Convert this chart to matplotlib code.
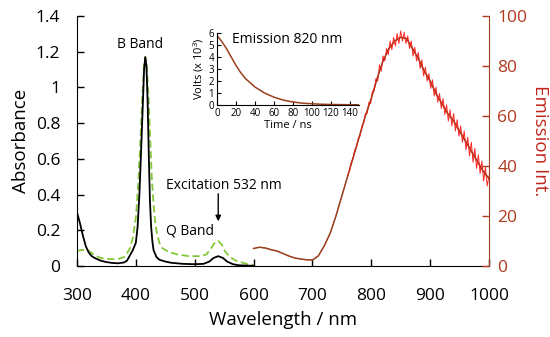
import matplotlib
matplotlib.use("Agg")
import matplotlib.pyplot as plt

plt.rcParams["font.family"] = ["Open Sans", "DejaVu Sans"]
plt.rcParams["mathtext.default"] = "regular"

# absorbance, solid black
abs_wl = [300, 305, 310, 315, 320, 325, 330, 340, 350, 360, 370, 380, 385, 390,
          395, 400, 403, 406, 409, 412, 414, 416, 418, 420, 422, 424, 426, 428,
          430, 435, 440, 450, 460, 480, 500, 515, 525, 532, 540, 548, 555, 565,
          575, 590, 600]
abs_val = [0.30, 0.24, 0.17, 0.11, 0.075, 0.055, 0.045, 0.03, 0.022, 0.017, 0.015,
           0.02, 0.03, 0.06, 0.09, 0.13, 0.22, 0.40, 0.65, 0.92, 1.10, 1.17, 1.12,
           0.92, 0.62, 0.36, 0.22, 0.14, 0.09, 0.05, 0.035, 0.025, 0.018, 0.012,
           0.01, 0.012, 0.025, 0.045, 0.055, 0.045, 0.025, 0.01, 0.004, 0.002, 0.001]

# excitation, dashed green
exc_wl = [300, 310, 320, 330, 340, 350, 360, 370, 380, 385, 390, 395, 400, 404,
          408, 411, 414, 416, 418, 421, 424, 427, 430, 433, 436, 440, 445, 455,
          470, 490, 510, 520, 528, 535, 540, 546, 552, 560, 570, 580, 590, 600]
exc_val = [0.085, 0.09, 0.085, 0.06, 0.045, 0.04, 0.038, 0.04, 0.05, 0.07, 0.10,
           0.16, 0.27, 0.45, 0.72, 0.95, 1.13, 1.17, 1.14, 0.98, 0.74, 0.50, 0.35,
           0.24, 0.18, 0.13, 0.10, 0.08, 0.065, 0.055, 0.055, 0.065, 0.10, 0.135,
           0.14, 0.12, 0.08, 0.05, 0.03, 0.02, 0.01, 0.005]

# emission (right axis), smooth trace
em_wl = list(range(600, 1001, 10))
em_val = [7.0, 7.5, 7.2, 6.5, 6.0, 5.0, 4.0, 3.2, 2.8, 2.5, 2.4, 4.0, 8.0, 13, 20,
          28, 36, 44, 52, 60, 67, 75, 82, 87, 90, 91.5, 91, 87, 83, 78, 74, 69,
          65, 61, 58, 54, 50, 46, 42, 38, 35]

# emission, noisy raw trace
raw_wl = list(range(760, 1001, 3))
raw_val = [36.5, 38, 41.5, 42.8, 46.5, 47.5, 51, 52, 56, 57, 61, 61, 65.5, 65, 70,
           70, 75, 74, 80.5, 78, 84, 82, 87, 84.5, 90, 86.5, 91.5, 88, 93, 89, 94,
           90, 93.5, 89, 92, 87, 90, 84, 87.5, 82, 85.5, 79, 82.5, 76, 79.5, 74,
           77, 71, 74.5, 68, 71.5, 65.5, 69, 63, 67, 60.5, 64.5, 58, 62.5, 56, 61,
           54, 58.5, 52, 56, 49.5, 54, 46.5, 51.5, 44, 49.5, 41.5, 47, 39, 44.5,
           37, 42, 34, 39.5, 32, 36]

# lifetime decay (inset)
t_ns = [0, 5, 10, 15, 20, 25, 30, 35, 40, 50, 60, 70, 80, 90, 100, 110, 120, 130,
        140, 150]
volts = [5.8, 5.3, 4.7, 4.0, 3.3, 2.7, 2.2, 1.85, 1.5, 1.0, 0.65, 0.4, 0.25, 0.15,
         0.1, 0.06, 0.04, 0.03, 0.02, 0.02]

red_ax = "#B03A1E"
brown = "#9A3F1C"

fig = plt.figure(figsize=(5.5, 3.37), dpi=100)
ax = fig.add_axes([0.14, 0.2107, 0.749, 0.7418])
ax.plot(abs_wl, abs_val, color="black", lw=1.3, zorder=3)
ax.plot(exc_wl, exc_val, color="#84C83A", lw=1.3, ls=(0, (4, 2)), zorder=2)
ax.set_xlim(300, 1000)
ax.set_ylim(0, 1.4)
ax.set_xticks(range(300, 1001, 100))
ax.set_yticks([0, 0.2, 0.4, 0.6, 0.8, 1.0, 1.2, 1.4])
ax.set_yticklabels(["0", "0.2", "0.4", "0.6", "0.8", "1", "1.2", "1.4"])
ax.tick_params(direction="in", labelsize=12.5, length=5, width=1, pad=12)
ax.tick_params(axis="x", pad=16)
ax.spines["top"].set_visible(False)
ax.spines["right"].set_visible(False)
ax.set_xlabel("Wavelength / nm", fontsize=13.5, labelpad=5)
ax.set_ylabel("Absorbance", fontsize=13.5, labelpad=4)

ax.text(407, 1.24, "B Band", fontsize=10, ha="center", va="center")
ax.text(451, 0.45, "Excitation 532 nm", fontsize=10, ha="left", va="center")
ax.text(451, 0.196, "Q Band", fontsize=10, ha="left", va="center")
ax.annotate("", xy=(540, 0.235), xytext=(540, 0.42),
            arrowprops=dict(arrowstyle="-|>", color="black", lw=1,
                            mutation_scale=8))

ax2 = ax.twinx()
ax2.plot(em_wl, em_val, color=brown, lw=1.1, zorder=2)
ax2.plot(raw_wl, raw_val, color="#FF1010", lw=0.7, alpha=0.9, zorder=3)
ax2.plot(em_wl, em_val, color=brown, lw=0.6, alpha=0.6, zorder=4)
ax2.set_ylim(0, 100)
ax2.set_yticks(range(0, 101, 20))
ax2.tick_params(direction="in", labelsize=12.5, length=5, width=1, pad=6,
                colors=red_ax)
for s in ["top", "left", "bottom"]:
    ax2.spines[s].set_visible(False)
ax2.spines["right"].set_color(brown)
ax2.set_ylabel("Emission Int.", fontsize=13.5, color="#C0281E", rotation=270,
               va="center")
ax2.yaxis.set_label_coords(1.0 + (540 - 489) / 412.0, 0.5)

# inset with decay
ins = fig.add_axes([0.3945, 0.6885, 0.259, 0.2135])
ins.plot(t_ns, volts, color=brown, lw=1.1)
ins.set_xlim(0, 150)
ins.set_ylim(0, 6)
ins.set_xticks(range(0, 141, 20))
ins.set_yticks(range(0, 7))
ins.tick_params(direction="in", labelsize=7, length=3, width=0.8, pad=2)
ins.spines["top"].set_visible(False)
ins.spines["right"].set_visible(False)
ins.set_xlabel("Time / ns", fontsize=8, labelpad=1)
ins.set_ylabel("Volts (x 10$^3$)", fontsize=8, labelpad=2)
ins.patch.set_alpha(0)
ins.text(16, 5.5, "Emission 820 nm", fontsize=10, ha="left", va="center")

fig.savefig("out.png", dpi=100)
plt.close(fig)
